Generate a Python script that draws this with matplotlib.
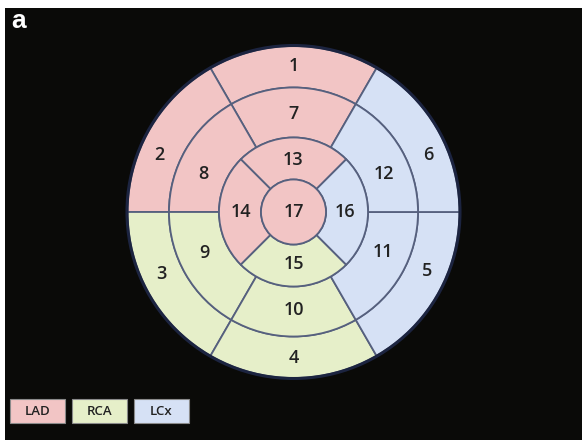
import matplotlib
matplotlib.use("Agg")
import numpy as np
import matplotlib.pyplot as plt
from matplotlib.patches import Wedge, Circle, Rectangle

# AHA 17-segment bullseye: segment numbers per ring and coronary territory
basal_segments = [1, 2, 3, 4, 5, 6]
mid_segments = [7, 8, 9, 10, 11, 12]
apical_segments = [13, 14, 15, 16]
apex_segment = 17

territory = {
    1: "LAD", 2: "LAD", 7: "LAD", 8: "LAD", 13: "LAD", 14: "LAD", 17: "LAD",
    3: "RCA", 4: "RCA", 9: "RCA", 10: "RCA", 15: "RCA",
    5: "LCx", 6: "LCx", 11: "LCx", 12: "LCx", 16: "LCx",
}
territories = ["LAD", "RCA", "LCx"]
territory_colors = {"LAD": "#f2c5c5", "RCA": "#e6efc9", "LCx": "#d6e1f5"}

# angular spans (degrees, counter-clockwise from 3 o'clock)
six_ring_spans = [(60, 120), (120, 180), (180, 240), (240, 300), (300, 360), (0, 60)]
four_ring_spans = [(45, 135), (135, 225), (225, 315), (315, 405)]
six_ring_label_angles = [90, 157, 205, 270, 336, 23]
four_ring_label_angles = [90, 180, 270, 0]

W, H = 582, 440
fig = plt.figure(figsize=(W / 100, H / 100), dpi=100, facecolor="white")
ax = fig.add_axes([0, 0, 1, 1])
ax.set_xlim(0, W)
ax.set_ylim(0, H)
ax.set_aspect("auto")
ax.axis("off")

# dark panel
ax.add_patch(Rectangle((5, 0), W - 5, H - 8, facecolor="#0a0a08", edgecolor="none", zorder=0))

cx, cy = 293.5, H - 212
r_apex, r_apical, r_mid, r_basal = 32.5, 74.5, 124.5, 166
edge = "#56607e"
lw = 1.3
num_font = dict(family=["Open Sans", "DejaVu Sans"], fontsize=13, fontweight="semibold",
                color="#222222", ha="center", va="center", zorder=5)


def draw_ring(segments, spans, label_angles, r_in, r_out, label_r):
    for seg, (t1, t2), la in zip(segments, spans, label_angles):
        ax.add_patch(Wedge((cx, cy), r_out, t1, t2, width=r_out - r_in,
                           facecolor=territory_colors[territory[seg]],
                           edgecolor=edge, linewidth=lw, zorder=2))
        a = np.deg2rad(la)
        ax.text(cx + label_r * np.cos(a), cy + label_r * np.sin(a), str(seg), **num_font)


draw_ring(basal_segments, six_ring_spans, six_ring_label_angles, r_mid, r_basal, 146)
draw_ring(mid_segments, six_ring_spans, six_ring_label_angles, r_apical, r_mid, 98)
draw_ring(apical_segments, four_ring_spans, four_ring_label_angles, r_apex, r_apical, 52)
ax.add_patch(Circle((cx, cy), r_apex, facecolor=territory_colors[territory[apex_segment]],
                    edgecolor=edge, linewidth=lw, zorder=3))
ax.text(cx, cy, str(apex_segment), **num_font)

# soft dark rim around the outer circle
ax.add_patch(Circle((cx, cy), r_basal + 0.5, facecolor="none", edgecolor="#1c2440",
                    linewidth=2.2, zorder=4))

# territory legend
box_x = [10, 72, 134]
for name, bx in zip(territories, box_x):
    ax.add_patch(Rectangle((bx, H - 423), 55, 24, facecolor=territory_colors[name],
                           edgecolor="#8a8a8a", linewidth=0.8, zorder=2))
    ax.text(bx + 27.5, H - 411, name, family=["Open Sans", "DejaVu Sans"], fontsize=9.5,
            fontweight="semibold", color="#222222", ha="center", va="center", zorder=3)

ax.text(11, H - 28, "a", family="Liberation Sans", fontweight="bold", fontsize=19,
        color="white", ha="left", va="baseline", zorder=5)

fig.savefig("out.png", dpi=100, facecolor=fig.get_facecolor())
